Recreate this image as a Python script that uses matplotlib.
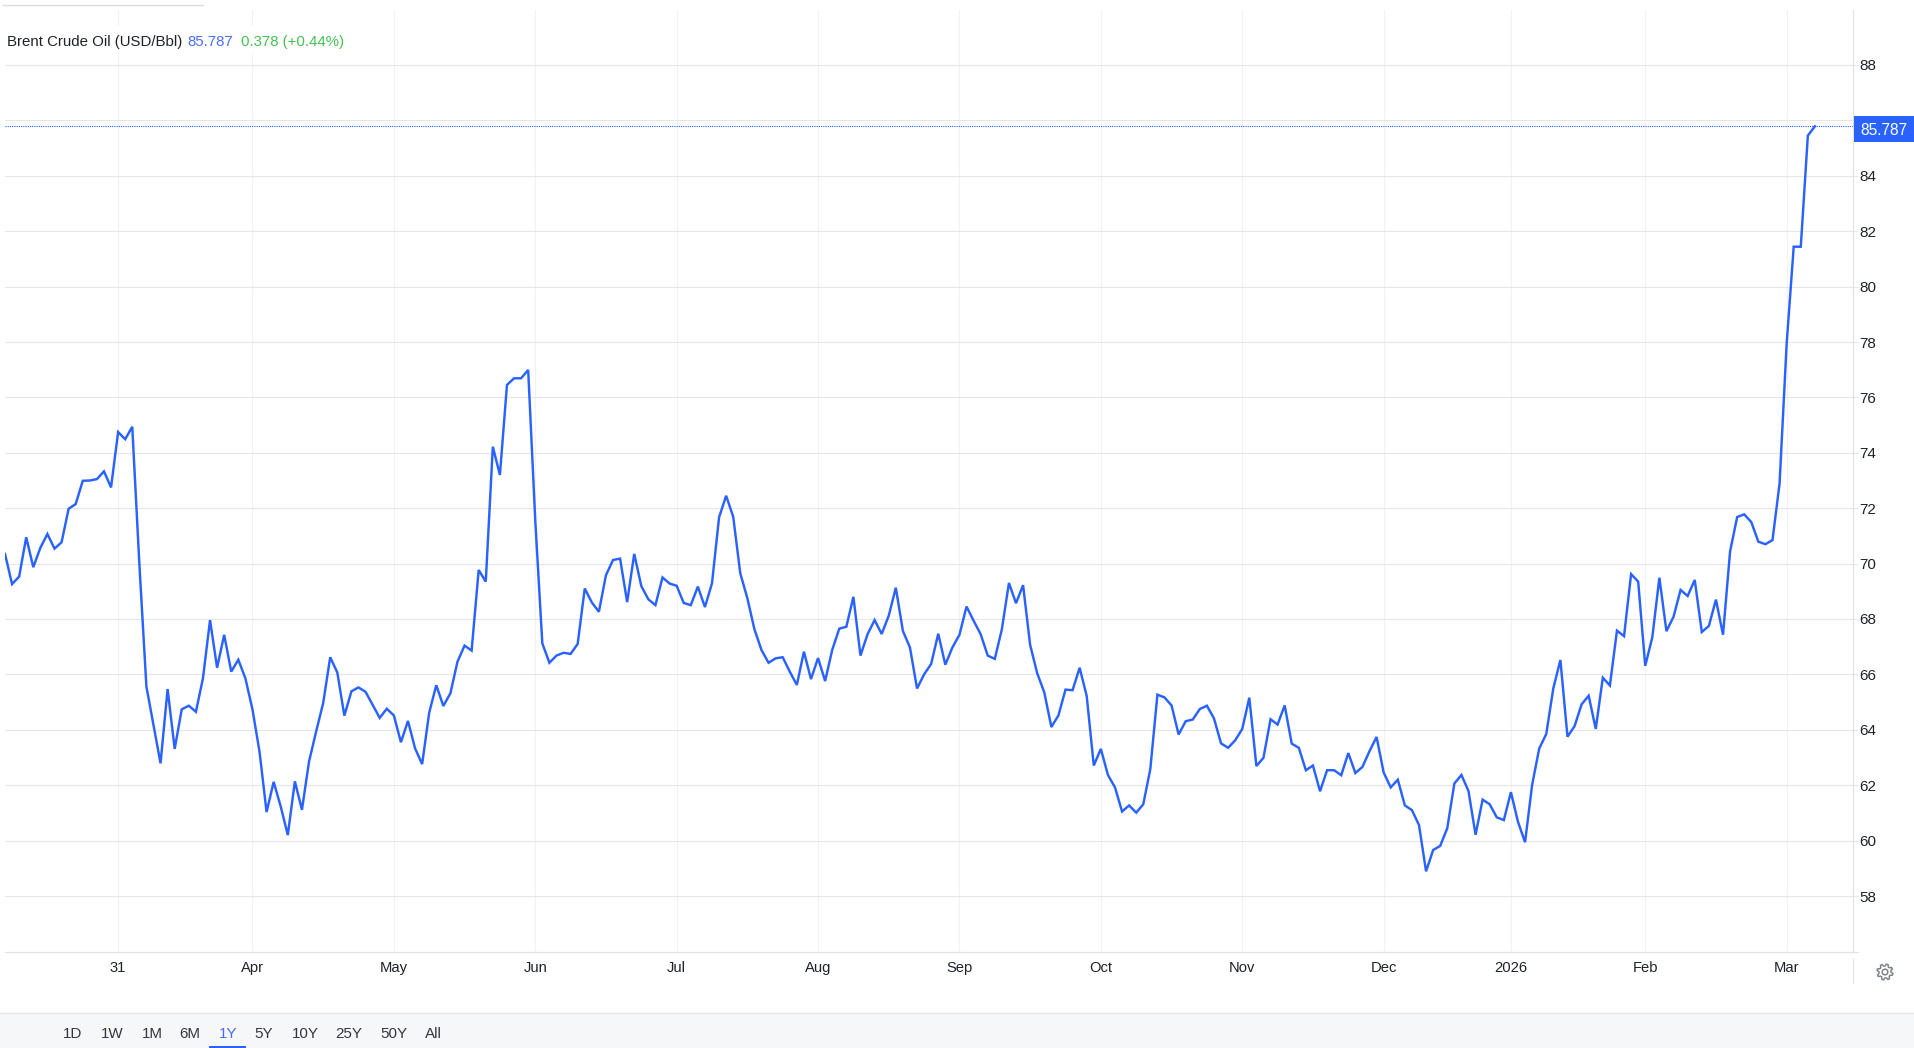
import numpy as np
import matplotlib
matplotlib.use("Agg")
import matplotlib.pyplot as plt
from matplotlib.patches import Rectangle, PathPatch
from matplotlib.path import Path

plt.rcParams['font.family'] = ['Liberation Sans', 'DejaVu Sans']

# Brent crude closing values in five consecutive stretches
prices_a = [70.35,69.26,69.53,70.95,69.87,70.57,71.07,70.54,70.77,71.98,72.15,72.99,73.0,73.05,73.33,72.75,
            74.75,74.49,74.94,70.01,65.56,64.17,62.79,65.47,63.31,64.74,64.87,64.65,65.86,67.96,66.24,67.43,
            66.10,66.53,65.86,64.74,63.21,61.03,62.12,61.23,60.20,62.14,61.11,62.85,63.93,64.96,66.62,66.07,
            64.51,65.39,65.53,65.37,64.90,64.43,64.76,64.52]
prices_b = [63.55,64.32,63.33,62.76,64.62,65.61,64.86,65.32,66.46,67.04,66.86,69.77,69.35,74.22,73.2,76.45,
            76.69,76.69,76.99,71.57,67.12,66.42,66.68,66.78,66.74,67.1,69.1,68.6,68.26,69.58,70.13,70.18,
            68.61,70.35,69.19,68.71,68.5,69.5,69.28,69.2,68.58,68.5,69.17,68.43,69.29,71.67,72.45,71.69,
            69.65,68.75,67.63,66.88,66.42,66.58,66.62,66.1,65.62]
prices_c = [66.82,65.83,66.59,65.76,66.88,67.65,67.72,68.8,66.68,67.45,67.96,67.46,68.12,69.13,67.57,66.97,
            65.49,66.0,66.38,67.47,66.35,66.97,67.43,68.45,67.94,67.45,66.68,66.56,67.63,69.3,68.57,69.22,
            67.06,66.04,65.35,64.1,64.52,65.45,65.43,66.24,65.22,62.71,63.31,62.37,61.92,61.05,61.27,61.01,
            61.31,62.59,65.27,65.17,64.88,63.83,64.31,64.37]
prices_d = [64.75,64.87,64.41,63.51,63.35,63.62,64.03,65.16,62.69,62.99,64.38,64.19,64.88,63.5,63.35,62.54,
            62.71,61.78,62.54,62.54,62.36,63.16,62.44,62.66,63.23,63.74,62.46,61.92,62.2,61.27,61.1,60.56,
            58.89,59.66,59.81,60.45,62.06,62.37,61.79,60.21,61.48,61.31,60.84,60.74,61.75,60.68,59.94,62.01,
            63.32,63.85,65.5,66.52,63.75,64.13,64.92,65.23,64.03]
prices_e = [65.88,65.6,67.58,67.38,69.62,69.35,66.31,67.34,69.49,67.56,68.08,69.05,68.83,69.41,67.53,67.75,
            68.7,67.43,70.44,71.68,71.78,71.5,70.79,70.7,70.85,72.89,77.93,81.44,81.44,85.45,85.787]

y_ticks = [58,60,62,64,66,68,70,72,74,76,78,80,82,84,86,88]
x_tick_index = [16,35,55,75,95,115,135,155,175,195,213,232,252]
x_tick_labels = ['31','Apr','May','Jun','Jul','Aug','Sep','Oct','Nov','Dec','2026','Feb','Mar']
range_labels = ['1D','1W','1M','6M','1Y','5Y','10Y','25Y','50Y','All']
last_price = 85.787

prices = prices_a + prices_b + prices_c + prices_d + prices_e
x = np.arange(len(prices))

W, H = 1915, 1048
BLUE = '#2962ff'
TEXT = '#1f2328'
fig = plt.figure(figsize=(W/100, H/100), dpi=100, facecolor='white')

# plot area in pixels
L, R, T, B = 5, 1853, 10, 952
ax = fig.add_axes([L/W, 1-B/H, (R-L)/W, (B-T)/H])
ax.set_xlim(0, (R-L)/7.07)
ax.set_ylim(88-(B-65)/27.7, 88+(65-T)/27.7)
ax.plot(x, prices, color=BLUE, lw=1.75, solid_joinstyle='miter', zorder=4)
ax.axhline(last_price, color=BLUE, lw=0.8, ls=(0, (1, 1)), zorder=3)

ax.set_yticks(y_ticks)
ax.set_yticklabels([str(v) for v in y_ticks])
ax.set_xticks(x_tick_index)
ax.set_xticklabels(x_tick_labels)
ax.yaxis.tick_right()
ax.grid(axis='y', color='#e6e6e6', lw=0.8, zorder=1)
ax.grid(axis='x', color='#f0f2f5', lw=0.8, zorder=1)
ax.set_axisbelow(True)
ax.tick_params(axis='y', length=3.6, width=0.8, color='#e6e6e6', pad=1, labelsize=11.0, labelcolor=TEXT)
ax.tick_params(axis='x', length=0, pad=6.5, labelsize=10.6, labelcolor=TEXT)
for s in ('left', 'top'):
    ax.spines[s].set_visible(False)
for s in ('right', 'bottom'):
    ax.spines[s].set_color('#e3e3e3')
    ax.spines[s].set_linewidth(0.9)

# interface elements in pixel coordinates
ui = fig.add_axes([0, 0, 1, 1], facecolor='none')
ui.set_xlim(0, W)
ui.set_ylim(H, 0)
ui.axis('off')

ui.plot([3, 203], [5, 5], color='#dcdcdc', lw=1.0)
ui.plot([R, R], [959, 983], color='#e3e3e3', lw=0.9)
ui.plot([R, 1858], [952, 952], color='#e3e3e3', lw=0.9)

# legend with white backing
ui.add_patch(Rectangle((3, 26), 345, 27, fc='white', ec='none'))
fs = 10.8
ui.text(7, 42, 'Brent Crude Oil (USD/Bbl)', color=TEXT, fontsize=fs, va='center', ha='left')
ui.text(187, 42, '85.787', color='#4a6cf7', fontsize=fs, va='center', ha='left')
ui.text(241, 42, '0.378 (+0.44%)', color='#45c24f', fontsize=fs, va='center', ha='left')

# price tag
ui.add_patch(Rectangle((1854, 116), W-1854, 26, fc=BLUE, ec='none', zorder=5))
ui.text(1884, 130.5, '85.787', color='white', fontsize=11.2, ha='center', va='center', zorder=6)

# gear icon
n = 8
cx, cy = 1885, 972
ang = np.linspace(0, 2*np.pi, n*4, endpoint=False) + np.pi/8 - np.pi/n/2
rad = np.tile([8, 8, 6, 6], n)
verts = np.c_[cx + rad*np.cos(ang), cy + rad*np.sin(ang)]
gear = Path(np.r_[verts, verts[:1]], closed=True)
ui.add_patch(PathPatch(gear, fc='none', ec='#808489', lw=1.1))
ui.add_patch(plt.Circle((cx, cy), 2.8, fc='none', ec='#808489', lw=1.1))

# bottom range bar
ui.add_patch(Rectangle((0, 1013), W, H-1013, fc='#f6f7f9', ec='none'))
ui.plot([0, W], [1013, 1013], color='#e6e6e6', lw=0.9)
range_x = [73, 112, 152, 190, 228, 264, 305, 349, 394, 433]
for lab, px in zip(range_labels, range_x):
    ui.text(px, 1034.5, lab, fontsize=10.9, ha='center', va='center',
            color='#4a6cf7' if lab == '1Y' else '#33373d')
ui.add_patch(Rectangle((209, 1046), 37, 2, fc=BLUE, ec='none'))

fig.savefig('out.png', dpi=100)
